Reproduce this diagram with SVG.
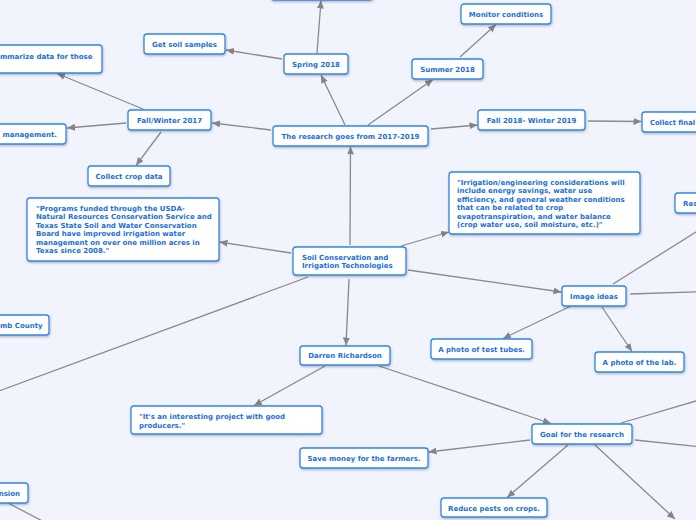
<svg xmlns="http://www.w3.org/2000/svg" width="696" height="520" viewBox="0 0 696 520">
<defs>
<filter id="sh" x="-10%" y="-20%" width="120%" height="160%">
<feDropShadow dx="0.6" dy="1.2" stdDeviation="0.8" flood-color="#000" flood-opacity="0.28"/>
</filter>
<marker id="arr" markerUnits="userSpaceOnUse" markerWidth="9" markerHeight="8" refX="8" refY="3.5" orient="auto">
<path d="M0,0 L8,3.5 L0,7 z" fill="#858585"/>
</marker>
<style>
.box{fill:#ffffff;stroke:#3385e5;stroke-width:1.3;filter:url(#sh)}
.t{font-family:"DejaVu Sans","Verdana",sans-serif;font-weight:bold;font-size:7px;fill:#1b6fd6}
.c{text-anchor:middle}
.e{text-anchor:end}
.ln{stroke:#8a8a8a;stroke-width:1.3;fill:none}
.a{marker-end:url(#arr)}
</style>
</defs>
<rect width="696" height="520" fill="#f1f4fd"/>
<g id="connectors">
<line class="ln a" x1="345" y1="125" x2="321" y2="75"/>
<line class="ln a" x1="317" y1="53" x2="321" y2="0.5"/>
<line class="ln a" x1="282" y1="59" x2="226" y2="50"/>
<line class="ln a" x1="271" y1="130" x2="212" y2="123"/>
<line class="ln a" x1="143" y1="109" x2="57" y2="73.5"/>
<line class="ln a" x1="126" y1="123" x2="67" y2="128"/>
<line class="ln a" x1="161" y1="132" x2="136" y2="165.5"/>
<line class="ln a" x1="368" y1="125" x2="433" y2="79.5"/>
<line class="ln a" x1="460" y1="57" x2="496" y2="24.5"/>
<line class="ln a" x1="431" y1="129" x2="477.5" y2="125"/>
<line class="ln a" x1="588" y1="121" x2="641.5" y2="121.5"/>
<line class="ln a" x1="350" y1="245" x2="350.5" y2="146.5"/>
<line class="ln a" x1="291" y1="253" x2="219.5" y2="242"/>
<line class="ln a" x1="401" y1="246" x2="449" y2="232"/>
<line class="ln a" x1="408" y1="270" x2="561.5" y2="292"/>
<line class="ln a" x1="349" y1="279" x2="346" y2="345.5"/>
<line class="ln" x1="308" y1="277" x2="-20" y2="398"/>
<line class="ln" x1="613" y1="284" x2="720" y2="217"/>
<line class="ln" x1="630" y1="294" x2="720" y2="291"/>
<line class="ln a" x1="571" y1="306" x2="503" y2="338.5"/>
<line class="ln a" x1="602" y1="307" x2="632" y2="351.5"/>
<line class="ln a" x1="325" y1="366" x2="254" y2="405.5"/>
<line class="ln a" x1="379" y1="366" x2="551" y2="423.5"/>
<line class="ln a" x1="530" y1="440" x2="428.5" y2="452"/>
<line class="ln a" x1="568" y1="445" x2="507" y2="497.5"/>
<line class="ln a" x1="595" y1="445" x2="675" y2="519"/>
<line class="ln" x1="621" y1="423" x2="720" y2="394"/>
<line class="ln" x1="635" y1="440" x2="720" y2="449"/>
<line class="ln" x1="8" y1="503" x2="50" y2="525"/>
</g>
<g id="n-top"><rect class="box" x="271" y="-20" width="102" height="20" rx="3"/></g>
<g id="n-spring"><rect class="box" x="284" y="54" width="64" height="20" rx="3"/><text class="t c" x="316" y="66.5">Spring 2018</text></g>
<g id="n-soilsamples"><rect class="box" x="144" y="34" width="81" height="20" rx="3"/><text class="t c" x="184.5" y="46.5">Get soil samples</text></g>
<g id="n-summarize"><rect class="box" x="-20" y="45" width="122" height="28" rx="3"/><text class="t" x="0" y="58.5">mmarize data for those</text></g>
<g id="n-fallwinter"><rect class="box" x="128" y="110" width="83" height="20" rx="3"/><text class="t c" x="169.5" y="122.5">Fall/Winter 2017</text></g>
<g id="n-management"><rect class="box" x="-40" y="124" width="106" height="20" rx="3"/><text class="t e" x="57" y="136.5">e management.</text></g>
<g id="n-crop"><rect class="box" x="88" y="166" width="82" height="20" rx="3"/><text class="t c" x="129" y="178.5">Collect crop data</text></g>
<g id="n-research"><rect class="box" x="273" y="126" width="155" height="20" rx="3"/><text class="t c" x="350.5" y="138.5">The research goes from 2017-2019</text></g>
<g id="n-summer"><rect class="box" x="412" y="59" width="71" height="20" rx="3"/><text class="t c" x="447.5" y="71.5">Summer 2018</text></g>
<g id="n-monitor"><rect class="box" x="461" y="4" width="90" height="20" rx="3"/><text class="t c" x="506" y="16.5">Monitor conditions</text></g>
<g id="n-fall2018"><rect class="box" x="478" y="110" width="107" height="20" rx="3"/><text class="t c" x="531.5" y="122.5">Fall 2018- Winter 2019</text></g>
<g id="n-collectfinal"><rect class="box" x="642" y="112" width="80" height="20" rx="3"/><text class="t" x="650" y="124.5" textLength="45" lengthAdjust="spacingAndGlyphs">Collect final</text></g>
<g id="n-irrigation"><rect class="box" x="449" y="172" width="191" height="62" rx="3"/>
<text class="t" x="457" y="184.5">"Irrigation/engineering considerations will</text>
<text class="t" x="457" y="193">include energy savings, water use</text>
<text class="t" x="457" y="201.5">efficiency, and general weather conditions</text>
<text class="t" x="457" y="210">that can be related to crop</text>
<text class="t" x="457" y="218.5">evapotranspiration, and water balance</text>
<text class="t" x="457" y="227">(crop water use, soil moisture, etc.)"</text></g>
<g id="n-res"><rect class="box" x="675" y="193" width="60" height="20" rx="3"/><text class="t" x="683" y="205.5">Res</text></g>
<g id="n-programs"><rect class="box" x="27" y="198" width="192" height="63" rx="3"/>
<text class="t" x="36" y="210.5">"Programs funded through the USDA-</text>
<text class="t" x="36" y="219">Natural Resources Conservation Service and</text>
<text class="t" x="36" y="227.5">Texas State Soil and Water Conservation</text>
<text class="t" x="36" y="236">Board have improved irrigation water</text>
<text class="t" x="36" y="244.5">management on over one million acres in</text>
<text class="t" x="36" y="253">Texas since 2008."</text></g>
<g id="n-soilcons"><rect class="box" x="293" y="247" width="113" height="28" rx="3"/>
<text class="t" x="302" y="259.5">Soil Conservation and</text>
<text class="t" x="302" y="267.5">Irrigation Technologies</text></g>
<g id="n-county"><rect class="box" x="-20" y="315" width="69" height="20" rx="3"/><text class="t" x="0" y="327.5">mb County</text></g>
<g id="n-extension"><rect class="box" x="-20" y="483" width="48" height="20" rx="3"/><text class="t e" x="20" y="495.5">nsion</text></g>
<g id="n-darren"><rect class="box" x="300" y="346" width="90" height="19" rx="3"/><text class="t c" x="345" y="358">Darren Richardson</text></g>
<g id="n-interesting"><rect class="box" x="131" y="406" width="191" height="28" rx="3"/>
<text class="t" x="139" y="418.5">"It's an interesting project with good</text>
<text class="t" x="139" y="427.5">producers."</text></g>
<g id="n-save"><rect class="box" x="300" y="448" width="128" height="20" rx="3"/><text class="t c" x="364" y="460.5">Save money for the farmers.</text></g>
<g id="n-testtubes"><rect class="box" x="431" y="339" width="101" height="20" rx="3"/><text class="t c" x="481.5" y="351.5">A photo of test tubes.</text></g>
<g id="n-lab"><rect class="box" x="595" y="352" width="89" height="20" rx="3"/><text class="t c" x="639.5" y="364.5">A photo of the lab.</text></g>
<g id="n-image"><rect class="box" x="562" y="286" width="64" height="20" rx="3"/><text class="t c" x="594" y="298.5">Image ideas</text></g>
<g id="n-goal"><rect class="box" x="532" y="424" width="100" height="20" rx="3"/><text class="t c" x="582" y="436.5">Goal for the research</text></g>
<g id="n-reduce"><rect class="box" x="441" y="498" width="106" height="19" rx="3"/><text class="t c" x="494" y="510.5">Reduce pests on crops.</text></g>
</svg>
